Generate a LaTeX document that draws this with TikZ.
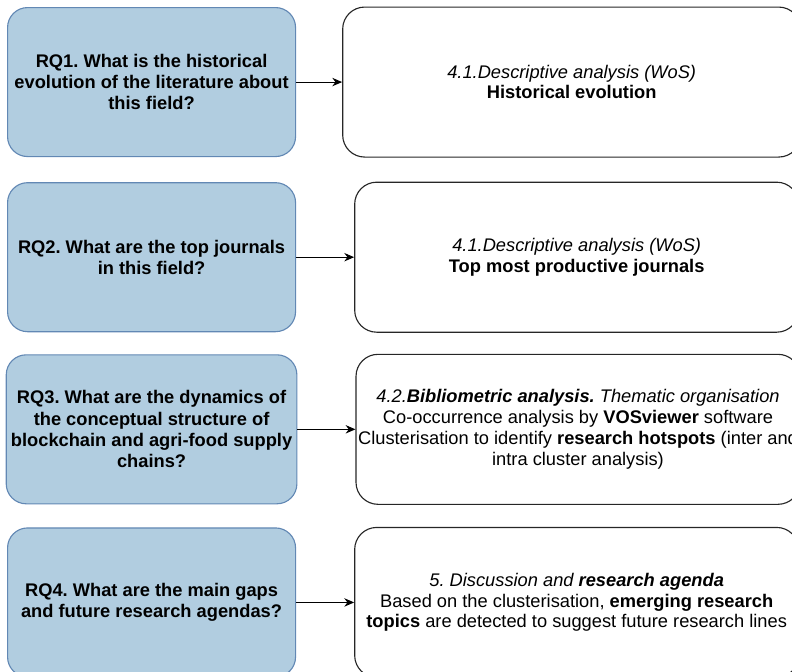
\documentclass[tikz,border=0pt]{standalone}
\usepackage{fontspec}
\setmainfont{Liberation Sans}
\usetikzlibrary{positioning}
\usetikzlibrary{arrows.meta}
\definecolor{rqfill}{RGB}{177,205,224}
\definecolor{rqdraw}{RGB}{98,136,180}
\frenchspacing

\begin{document}
\begin{tikzpicture}
    [
    node distance=0.575cm and 1.45cm,
    every node/.style={align=center, font=\fontsize{13}{14.8}\selectfont},
    rq/.style={rectangle, rounded corners=0.5cm, fill=rqfill, draw=rqdraw, line width=0.8pt,
        minimum width=7.2cm, minimum height=3.725cm, font=\fontsize{13}{15.2}\selectfont\bfseries},
    ans/.style={rectangle, rounded corners=0.55cm, draw=black!85, line width=0.8pt,
        minimum width=11.1cm, minimum height=3.75cm, inner xsep=0pt},
    link/.style={-{Stealth[length=7pt,width=6pt]}, line width=0.7pt},
    ]

    \path[use as bounding box, clip] (0,0) rectangle (19.8,-16.8);

    \node[rq, anchor=north west] (rq1) at (0.175,-0.175)
        {RQ1. What is the historical\\evolution of the literature about\\this field?};
    \node[rq, below=0.625cm of rq1] (rq2) {RQ2. What are the top journals\\in this field?};
    \node[rq, below=0.55cm of rq2] (rq3)
        {RQ3. What are the dynamics of\\the conceptual structure of\\blockchain and agri-food supply\\chains?};
    \node[rq, below=0.575cm of rq3] (rq4) {RQ4. What are the main gaps\\and future research agendas?};

    \node[ans, right=1.15cm of rq1, minimum width=11.45cm] (ans1)
        {\textit{4.1.Descriptive analysis (WoS)}\\\textbf{Historical evolution}};
    \node[ans, right=of rq2] (ans2)
        {\textit{4.1.Descriptive analysis (WoS)}\\\textbf{Top most productive journals}};
    \node[ans, right=of rq3] (ans3)
        {\textit{4.2.\textbf{Bibliometric analysis.} Thematic organisation}\\
         Co-occurrence analysis by \textbf{VOSviewer} software\\
         Clusterisation to identify \textbf{research hotspots} (inter and\\
         intra cluster analysis)};
    \node[ans, right=of rq4] (ans4)
        {\textit{5. Discussion and \textbf{research agenda}}\\
         Based on the clusterisation, \textbf{emerging research}\\
         \textbf{topics} are detected to suggest future research lines};

    \draw[link] (rq1) -- (ans1);
    \draw[link] (rq2) -- (ans2);
    \draw[link] (rq3) -- (ans3);
    \draw[link] (rq4) -- (ans4);
\end{tikzpicture}
\end{document}
